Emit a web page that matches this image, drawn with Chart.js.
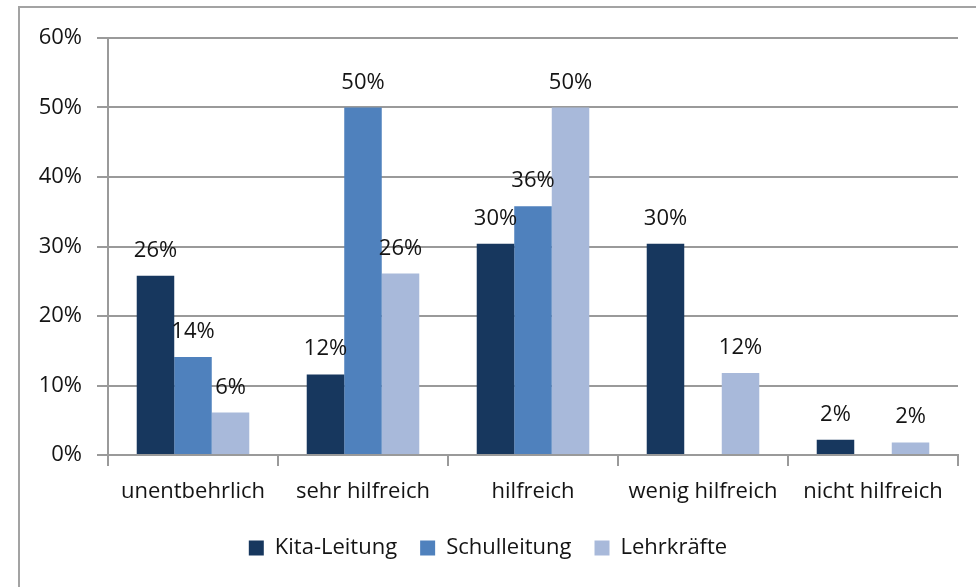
<!DOCTYPE html>
<html>
<head>
<meta charset="utf-8">
<script src="https://cdn.jsdelivr.net/npm/chart.js@4/dist/chart.umd.min.js"></script>
<style>
    html, body { margin: 0; padding: 0; background: #fff; overflow: hidden; }
    #frame { position: absolute; left: 18px; top: 6px; width: 1000px; height: 700px; border: 2px solid #a3a3a3; }
    #chart { position: absolute; left: 0; top: 0; }
</style>
</head>
<body>
<div id="frame"></div>
<canvas id="chart" width="976" height="587"></canvas>
<script>
// Categories and series values (percent)
const categories = ['unentbehrlich', 'sehr hilfreich', 'hilfreich', 'wenig hilfreich', 'nicht hilfreich'];
const kitaLeitung = [25.8, 11.6, 30.4, 30.4, 2.2];
const schulleitung = [14.1, 50, 35.8, null, null];
const lehrkraefte = [6.1, 26.1, 50, 11.8, 1.8];
const yTicks = [0, 10, 20, 30, 40, 50, 60];

const FONT = '"Open Sans", "Noto Sans", sans-serif';
const TEXT = '#141414';
const LINE = '#9a9a9a';

// Draws the percent labels above each bar
const barLabels = {
    id: 'barLabels',
    afterDatasetsDraw(chart) {
        const ctx = chart.ctx;
        ctx.save();
        ctx.font = '22px ' + FONT;
        ctx.fillStyle = TEXT;
        ctx.textAlign = 'center';
        ctx.textBaseline = 'alphabetic';
        chart.data.datasets.forEach((ds, i) => {
            chart.getDatasetMeta(i).data.forEach((bar, j) => {
                const v = ds.data[j];
                if (v == null) return;
                ctx.fillText(Math.round(v) + '%', bar.x, bar.y - 19);
            });
        });
        ctx.restore();
    }
};

new Chart(document.getElementById('chart'), {
    type: 'bar',
    data: {
        labels: categories,
        datasets: [
            { label: 'Kita-Leitung', data: kitaLeitung, backgroundColor: '#17375e' },
            { label: 'Schulleitung', data: schulleitung, backgroundColor: '#4f81bd' },
            { label: 'Lehrkräfte', data: lehrkraefte, backgroundColor: '#a8b9da' }
        ]
    },
    options: {
        responsive: false,
        animation: false,
        layout: { padding: { left: 18, right: 18, top: 38, bottom: 18 } },
        datasets: {
            bar: { categoryPercentage: 0.662, barPercentage: 1.0, borderWidth: 0 }
        },
        scales: {
            x: {
                afterFit(scale) { scale.height = 59; },
                grid: { offset: true, drawOnChartArea: false, drawTicks: true, tickLength: 11, color: LINE, lineWidth: 2 },
                border: { display: true, color: LINE, width: 2 },
                ticks: { font: { family: FONT, size: 22 }, color: TEXT, padding: 13, maxRotation: 0, autoSkip: false }
            },
            y: {
                min: 0,
                max: 60,
                afterFit(scale) { scale.width = 90; },
                afterBuildTicks(scale) { scale.ticks = yTicks.map(v => ({ value: v })); },
                grid: { color: LINE, lineWidth: 2, drawTicks: true, tickLength: 11 },
                border: { display: true, color: LINE, width: 2 },
                ticks: {
                    font: { family: FONT, size: 22 },
                    color: TEXT,
                    padding: 15,
                    callback: v => v + '%'
                }
            }
        },
        plugins: {
            legend: {
                position: 'bottom',
                labels: {
                    font: { family: FONT, size: 22 },
                    color: TEXT,
                    boxWidth: 15,
                    boxHeight: 15,
                    padding: 23
                }
            },
            tooltip: { enabled: false }
        }
    },
    plugins: [barLabels]
});
</script>
</body>
</html>
